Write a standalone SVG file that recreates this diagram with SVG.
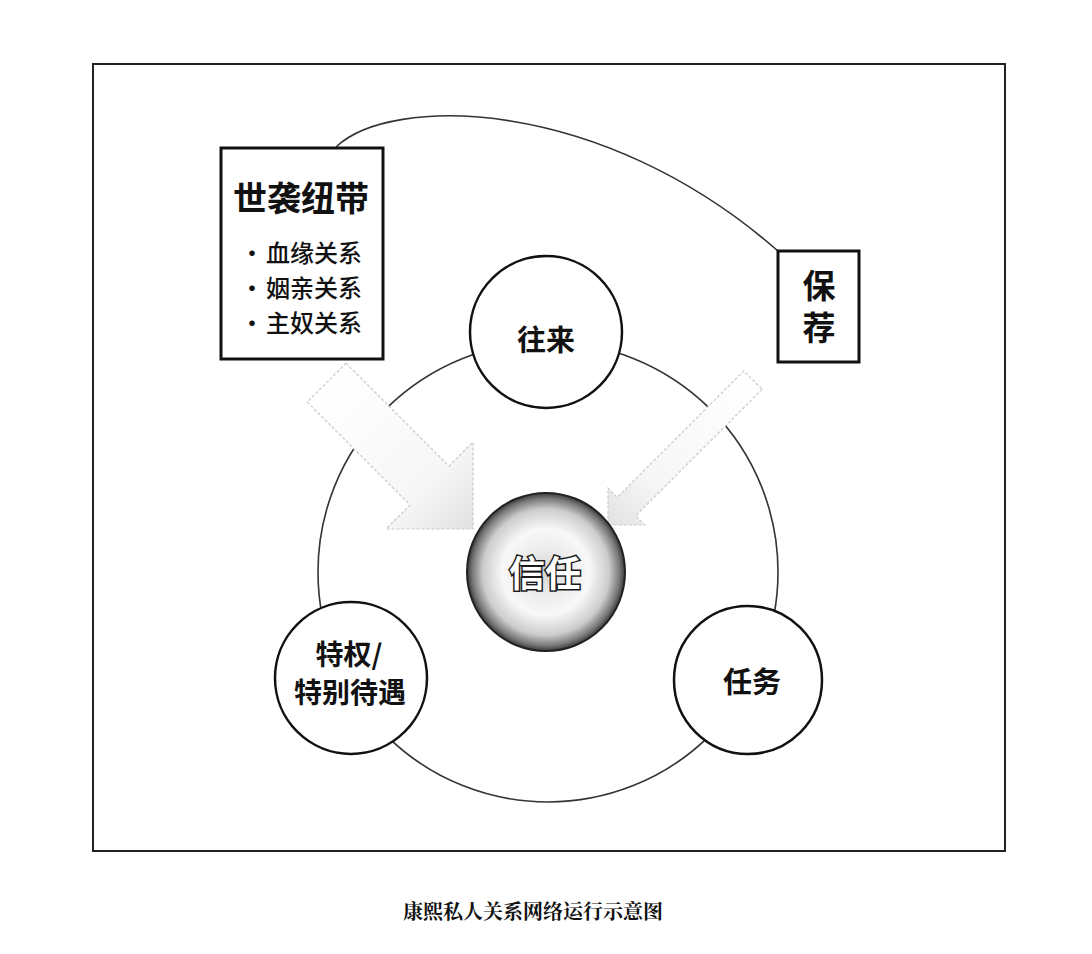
<svg xmlns="http://www.w3.org/2000/svg" width="1092" height="954" viewBox="0 0 1092 954">
<style>
.t{font-family:"Noto Sans CJK SC","Noto Sans",sans-serif;fill:#111;text-anchor:middle;dominant-baseline:central}
.node{fill:#fff;stroke:#111;stroke-width:2.5}
.box{fill:#fff;stroke:#111;stroke-width:3}
.arrow{stroke:#c9c9c9;stroke-width:1.2;stroke-dasharray:3 2}
</style>
<defs>
<radialGradient id="trust" cx="0.5" cy="0.5" r="0.5">
<stop offset="0" stop-color="#d4d4d4"/>
<stop offset="0.3" stop-color="#ececec"/>
<stop offset="0.55" stop-color="#f8f8f8"/>
<stop offset="0.8" stop-color="#cccccc"/>
<stop offset="0.93" stop-color="#7a7a7a"/>
<stop offset="1" stop-color="#3a3a3a"/>
</radialGradient>
<linearGradient id="arrowFill" x1="0" y1="0" x2="1" y2="0">
<stop offset="0" stop-color="#ffffff"/>
<stop offset="0.7" stop-color="#f6f6f6"/>
<stop offset="1" stop-color="#e2e2e2"/>
</linearGradient>
</defs>
<rect width="1092" height="954" fill="#fff"/>
<rect x="93" y="64" width="912" height="787" fill="none" stroke="#222" stroke-width="2"/>

<g id="connectors">
<circle cx="548" cy="572" r="230" fill="none" stroke="#333" stroke-width="1.6"/>
<path d="M336,147 C390,95 600,95 778,251" fill="none" stroke="#333" stroke-width="1.6"/>
<polygon class="arrow" fill="url(#arrowFill)" transform="translate(473,529) rotate(45)" points="-207,-27.5 -61.5,-27.5 -61.5,-61.5 0,0 -61.5,61.5 -61.5,27.5 -207,27.5"/>
<polygon class="arrow" fill="url(#arrowFill)" transform="translate(608,525) rotate(135)" points="-205,-13 -26,-13 -26,-26 0,0 -26,26 -26,13 -205,13"/>
</g>

<g id="node-shixi">
<rect class="box" x="221" y="148" width="162" height="211"/>
<text class="t" x="301" y="196" font-size="34" font-weight="700">世袭纽带</text>
<text class="t" x="252" y="251" font-size="24" font-weight="500">·</text>
<text class="t" x="314" y="251" font-size="24" font-weight="500">血缘关系</text>
<text class="t" x="252" y="286" font-size="24" font-weight="500">·</text>
<text class="t" x="314" y="286" font-size="24" font-weight="500">姻亲关系</text>
<text class="t" x="252" y="321" font-size="24" font-weight="500">·</text>
<text class="t" x="314" y="321" font-size="24" font-weight="500">主奴关系</text>
</g>

<g id="node-baojian">
<rect class="box" x="778" y="251" width="81" height="111"/>
<text x="819" y="311" font-size="33" font-weight="700" writing-mode="vertical-rl" letter-spacing="9" style="font-family:'Noto Sans CJK SC','Noto Sans',sans-serif;fill:#111;text-anchor:middle">保荐</text>
</g>

<g id="node-wanglai">
<circle class="node" cx="546" cy="332" r="76"/>
<text class="t" x="546" y="338" font-size="29" font-weight="700">往来</text>
</g>

<g id="node-tequan">
<circle class="node" cx="351" cy="678" r="76"/>
<text class="t" x="349" y="653" font-size="28" font-weight="700">特权/</text>
<text class="t" x="350" y="691" font-size="28" font-weight="700">特别待遇</text>
</g>

<g id="node-renwu">
<circle class="node" cx="748" cy="680" r="74"/>
<text class="t" x="752" y="680" font-size="29" font-weight="700">任务</text>
</g>

<g id="node-xinren">
<circle cx="546" cy="572" r="79" fill="url(#trust)" stroke="#222" stroke-width="2"/>
<text class="t" x="545" y="571" font-size="36" font-weight="700" style="fill:#fff;stroke:#1a1a1a;stroke-width:3;paint-order:stroke">信任</text>
</g>

<text class="t" x="533" y="910" font-size="20" font-weight="700" style="font-family:'Noto Serif CJK SC','Noto Sans CJK SC',serif">康熙私人关系网络运行示意图</text>
</svg>
